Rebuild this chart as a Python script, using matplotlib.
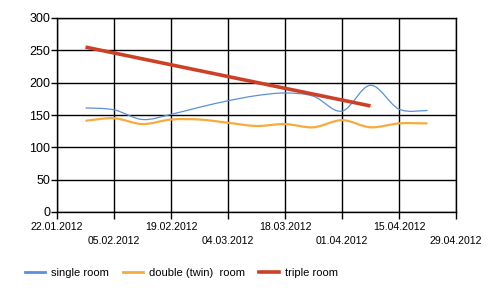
import datetime as dt

import numpy as np
import matplotlib
matplotlib.use('Agg')
import matplotlib.pyplot as plt
import matplotlib.dates as mdates
from matplotlib.path import Path
from matplotlib.patches import PathPatch
import matplotlib.lines as mlines

plt.rcParams['font.family'] = ['Liberation Sans', 'DejaVu Sans']

# weekly samples
week_dates = ['29.01.2012', '05.02.2012', '12.02.2012', '19.02.2012', '26.02.2012',
              '04.03.2012', '11.03.2012', '18.03.2012', '25.03.2012', '01.04.2012',
              '08.04.2012', '15.04.2012', '22.04.2012']
single_room = [161, 158, 143, 151, 162, 172, 180, 184, 179, 156, 196, 159, 157]
double_room = [141, 145, 136, 143, 143, 138, 133, 136, 131, 142, 131, 137, 137]

triple_dates = ['29.01.2012', '08.04.2012']
triple_room = [255, 164]

tick_dates = ['22.01.2012', '05.02.2012', '19.02.2012', '04.03.2012',
              '18.03.2012', '01.04.2012', '15.04.2012', '29.04.2012']


def to_num(labels):
    return mdates.date2num([dt.datetime.strptime(s, '%d.%m.%Y') for s in labels])


def smooth_path(x, y, tension=0.5):
    # catmull-rom style bezier segments, like a spreadsheet "smoothed line"
    x = np.asarray(x, float)
    y = np.asarray(y, float)
    verts = [(x[0], y[0])]
    codes = [Path.MOVETO]
    n = len(x)
    for i in range(n - 1):
        i0 = max(i - 1, 0)
        i3 = min(i + 2, n - 1)
        c1 = (x[i] + (x[i + 1] - x[i0]) * tension / 3, y[i] + (y[i + 1] - y[i0]) * tension / 3)
        c2 = (x[i + 1] - (x[i3] - x[i]) * tension / 3, y[i + 1] - (y[i3] - y[i]) * tension / 3)
        verts += [c1, c2, (x[i + 1], y[i + 1])]
        codes += [Path.CURVE4] * 3
    return Path(verts, codes)


c_single = '#5b8fdc'
c_double = '#f7ab3c'
c_triple = '#cc4125'

fig = plt.figure(figsize=(5.0, 2.96), dpi=100)
ax = fig.add_axes([57 / 500, 1 - 212 / 296, 399 / 500, 194 / 296])

xw = to_num(week_dates)
ax.add_patch(PathPatch(smooth_path(xw, single_room), facecolor='none',
                       edgecolor=c_single, lw=0.9, zorder=3))
ax.add_patch(PathPatch(smooth_path(xw, double_room), facecolor='none',
                       edgecolor=c_double, lw=1.6, zorder=3))
ax.plot(to_num(triple_dates), triple_room, color=c_triple, lw=2.6,
        solid_capstyle='butt', zorder=4)

xt = to_num(tick_dates)
ax.set_xlim(xt[0], xt[-1])
ax.set_ylim(0, 300)
ax.set_yticks(np.arange(0, 301, 50))
ax.set_xticks(xt)
labels = [s if i % 2 == 0 else '\n' + s for i, s in enumerate(tick_dates)]
ax.set_xticklabels(labels, fontsize=7.6, linespacing=1.55)
ax.tick_params(axis='y', labelsize=9, length=4, width=1, pad=1, color='black')
ax.tick_params(axis='x', length=5, width=1, pad=2, color='black')
ax.grid(True, color='black', lw=1)
ax.set_axisbelow(True)
for sp in ax.spines.values():
    sp.set_color('black')
    sp.set_linewidth(1)

handles = [mlines.Line2D([], [], color=c_single, lw=2),
           mlines.Line2D([], [], color=c_double, lw=2),
           mlines.Line2D([], [], color=c_triple, lw=2.6)]
fig.legend(handles, ['single room', 'double (twin)  room', 'triple room'],
           loc='center left', bbox_to_anchor=(25 / 500, 1 - 273 / 296), ncol=3,
           frameon=False, fontsize=8, handlelength=1.8, handletextpad=0.55,
           columnspacing=1.25, borderaxespad=0, borderpad=0)

fig.savefig('out.png', dpi=100)
